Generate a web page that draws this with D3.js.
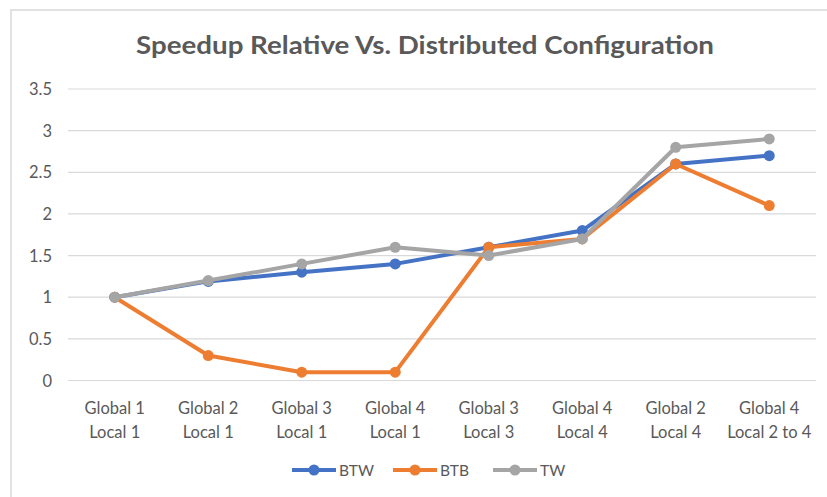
<!DOCTYPE html>
<html lang="en">
<head>
<meta charset="UTF-8">
<title>Speedup Relative Vs. Distributed Configuration</title>
<style>
    body { margin: 0; padding: 0; background: #fff; overflow: hidden; }
    svg { display: block; }
    text { font-family: Lato, "Open Sans", sans-serif; fill: #595959; }
</style>
</head>
<body>
<script src="https://d3js.org/d3.v7.min.js"></script>
<script>
    const categories = [
        ['Global 1', 'Local 1'],
        ['Global 2', 'Local 1'],
        ['Global 3', 'Local 1'],
        ['Global 4', 'Local 1'],
        ['Global 3', 'Local 3'],
        ['Global 4', 'Local 4'],
        ['Global 2', 'Local 4'],
        ['Global 4', 'Local 2 to 4']
    ];
    const btw = [1, 1.19, 1.3, 1.4, 1.6, 1.8, 2.6, 2.7];
    const btb = [1, 0.3, 0.1, 0.1, 1.6, 1.7, 2.6, 2.1];
    const tw = [1, 1.2, 1.4, 1.6, 1.5, 1.7, 2.8, 2.9];
    const yTicks = [0, 0.5, 1, 1.5, 2, 2.5, 3, 3.5];

    const series = [
        { name: 'BTW', values: btw, color: '#4472C4' },
        { name: 'BTB', values: btb, color: '#ED7D31' },
        { name: 'TW', values: tw, color: '#A5A5A5' }
    ];

    const width = 827, height = 497;
    const plotLeft = 68, plotRight = 816, plotTop = 89, plotBottom = 380.5;

    const svg = d3.select('body').append('svg')
        .attr('width', width)
        .attr('height', height);

    // chart border
    svg.append('rect')
        .attr('x', 11).attr('y', 10)
        .attr('width', 840).attr('height', 520)
        .attr('fill', 'none')
        .attr('stroke', '#d9d9d9')
        .attr('stroke-width', 1.5);

    svg.append('text')
        .attr('x', 425).attr('y', 54)
        .attr('text-anchor', 'middle')
        .style('font-size', '25px')
        .style('font-weight', 700)
        .attr('textLength', 578)
        .attr('lengthAdjust', 'spacingAndGlyphs')
        .text('Speedup Relative Vs. Distributed Configuration');

    const x = d3.scaleBand().domain(d3.range(categories.length)).range([plotLeft, plotRight]);
    const y = d3.scaleLinear().domain([0, 3.5]).range([plotBottom, plotTop]);

    // gridlines
    svg.append('g').selectAll('line')
        .data(yTicks)
        .enter().append('line')
        .attr('x1', plotLeft).attr('x2', plotRight)
        .attr('y1', d => y(d)).attr('y2', d => y(d))
        .attr('stroke', '#d9d9d9')
        .attr('stroke-width', 1.2);

    // y labels
    svg.append('g').selectAll('text')
        .data(yTicks)
        .enter().append('text')
        .attr('x', 52)
        .attr('y', d => y(d) + 6)
        .attr('text-anchor', 'end')
        .style('font-size', '16.5px')
        .text(d => d);

    // x labels
    const xl = svg.append('g').selectAll('text')
        .data(categories)
        .enter().append('text')
        .attr('text-anchor', 'middle')
        .style('font-size', '16.5px');
    xl.append('tspan')
        .attr('x', (d, i) => x(i) + x.bandwidth() / 2)
        .attr('y', 414)
        .text(d => d[0]);
    xl.append('tspan')
        .attr('x', (d, i) => x(i) + x.bandwidth() / 2)
        .attr('y', 438)
        .text(d => d[1]);

    const line = d3.line()
        .x((d, i) => x(i) + x.bandwidth() / 2)
        .y(d => y(d));

    series.forEach(s => {
        const g = svg.append('g');
        g.append('path')
            .attr('d', line(s.values))
            .attr('fill', 'none')
            .attr('stroke', s.color)
            .attr('stroke-width', 4)
            .attr('stroke-linejoin', 'round');
        g.selectAll('circle')
            .data(s.values)
            .enter().append('circle')
            .attr('cx', (d, i) => x(i) + x.bandwidth() / 2)
            .attr('cy', d => y(d))
            .attr('r', 5.5)
            .attr('fill', s.color);
    });

    // legend
    const legendX = [292, 393, 493];
    const leg = svg.append('g').selectAll('g')
        .data(series)
        .enter().append('g')
        .attr('transform', (d, i) => `translate(${legendX[i]},470)`);
    leg.append('line')
        .attr('x1', 0).attr('x2', 44)
        .attr('stroke', d => d.color)
        .attr('stroke-width', 4);
    leg.append('circle')
        .attr('cx', 22).attr('r', 5.5)
        .attr('fill', d => d.color);
    leg.append('text')
        .attr('x', 47).attr('y', 5.5)
        .style('font-size', '15.5px')
        .text(d => d.name);
</script>
</body>
</html>
